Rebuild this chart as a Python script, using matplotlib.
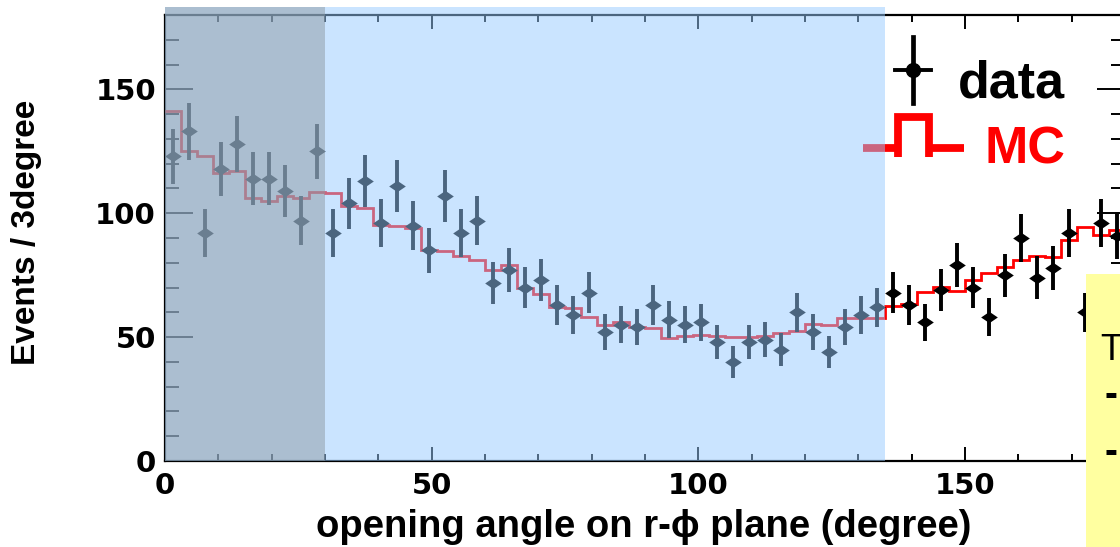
import numpy as np
import matplotlib
matplotlib.use("Agg")
import matplotlib.pyplot as plt
from matplotlib.patches import Rectangle
from matplotlib.ticker import MultipleLocator

# Opening-angle distribution, 3-degree bins from 0 to 180 degrees
bin_edges = np.arange(0, 181, 3)

data_counts = [123, 133, 92, 118, 128, 114, 114, 109, 97, 125,
               92, 104, 113, 96, 111, 95, 85, 107, 92, 97,
               72, 77, 70, 73, 63, 59, 68, 52, 55, 54,
               63, 57, 55, 56, 48, 40, 48, 49, 45, 60,
               52, 44, 54, 59, 62, 68, 63, 56, 69, 79,
               70, 58, 75, 90, 74, 78, 92, 60, 96, 91]

mc_counts = [141.3, 125.0, 123.0, 116.4, 117.0, 106.0, 104.8, 107.0, 106.0, 108.5,
             108.2, 102.8, 102.3, 95.4, 94.7, 94.1, 85.0, 84.6, 82.9, 81.3,
             77.0, 79.3, 69.8, 67.5, 62.1, 61.7, 58.1, 55.0, 55.9, 54.0,
             53.5, 49.8, 50.5, 51.0, 50.5, 50.0, 50.0, 50.3, 51.6, 52.3,
             55.2, 55.0, 57.7, 57.7, 57.7, 62.7, 63.5, 68.1, 70.2, 68.5,
             73.2, 75.9, 78.3, 81.3, 82.9, 82.4, 89.1, 94.5, 91.4, 93.4]

# Highlighted angular ranges (degrees)
dark_band = (0, 30)
light_band = (30, 135)

x_ticks = [0, 50, 100, 150]
y_ticks = [0, 50, 100, 150]

W, H = 1120, 547
fig = plt.figure(figsize=(W / 100, H / 100), dpi=100)
fig.patch.set_facecolor("white")

# axes box in pixel units (right edge runs slightly past the canvas)
ax_l, ax_r, ax_t, ax_b = 165, 1125, 15, 461
ax = fig.add_axes([ax_l / W, (H - ax_b) / H, (ax_r - ax_l) / W, (ax_b - ax_t) / H])
ax.set_xlim(0, 180)
ax.set_ylim(0, 180)
ax.set_facecolor("white")

centers = (bin_edges[:-1] + bin_edges[1:]) / 2
counts = np.array(data_counts, dtype=float)

ax.stairs(mc_counts, bin_edges, baseline=None, color="#ff0000", lw=2.0, zorder=3)

diamond = [(-1, 0), (0, 0.68), (1, 0), (0, -0.68), (-1, 0)]
ax.errorbar(centers, counts, yerr=np.sqrt(counts), fmt="none",
            ecolor="black", elinewidth=2.8, capsize=0, zorder=4)
ax.plot(centers, counts, linestyle="none", marker=diamond, markersize=12,
        color="black", markeredgewidth=0, zorder=4.5)

# ticks
for side in ["left", "right", "top", "bottom"]:
    ax.spines[side].set_linewidth(1.6)
ax.xaxis.set_major_locator(MultipleLocator(50))
ax.xaxis.set_minor_locator(MultipleLocator(10))
ax.yaxis.set_major_locator(MultipleLocator(50))
ax.yaxis.set_minor_locator(MultipleLocator(10))
ax.set_xticks(x_ticks)
ax.set_yticks(y_ticks)
ax.tick_params(axis="x", which="major", direction="in", length=10, width=1.4,
               top=True, bottom=True, pad=8)
ax.tick_params(axis="x", which="minor", direction="in", length=5, width=1.4,
               top=True, bottom=True)
ax.tick_params(axis="y", which="major", direction="in", length=20, width=1.4,
               left=True, right=True, pad=6.5)
ax.tick_params(axis="y", which="minor", direction="in", length=10, width=1.4,
               left=True, right=True)
for lab in ax.get_xticklabels() + ax.get_yticklabels():
    lab.set_fontfamily("DejaVu Sans")
    lab.set_fontweight("bold")
    lab.set_fontsize(21)

# legend, drawn in axes fractions
def px2ax(px, py):
    return (px - ax_l) / (ax_r - ax_l), (ax_b - py) / (ax_b - ax_t)

tA = ax.transAxes
x0, y0 = px2ax(913, 70)
xa, ya = px2ax(913, 37)
xb, yb = px2ax(913, 103)
ax.plot([xa, xb], [ya, yb], color="black", lw=3.4, transform=tA, zorder=5, clip_on=False)
xh1, _ = px2ax(895, 70)
xh2, _ = px2ax(931, 70)
ax.plot([xh1, xh2], [y0, y0], color="black", lw=2.8, transform=tA, zorder=5, clip_on=False)
ax.plot([x0], [y0], marker="o", markersize=10, color="black", transform=tA, zorder=5, clip_on=False)
tx, ty = px2ax(958, 98)
ax.text(tx, ty, "data", transform=tA, fontsize=37.5, fontweight="bold",
        family="Liberation Sans", color="black", va="baseline", ha="left", zorder=5)

mc_segments = [
    [(863, 147.5), (899, 147.5)],
    [(898.5, 157), (898.5, 117), (929.5, 117), (929.5, 157)],
    [(929.5, 147.5), (964, 147.5)],
]
for seg in mc_segments:
    pts = [px2ax(*p) for p in seg]
    ax.plot([p[0] for p in pts], [p[1] for p in pts], color="#ff0000", lw=5.6,
            solid_capstyle="butt", solid_joinstyle="miter", transform=tA,
            zorder=5, clip_on=False)
tx, ty = px2ax(985, 163)
ax.text(tx, ty, "MC", transform=tA, fontsize=37.5, fontweight="bold",
        family="Liberation Sans", color="#ff0000", va="baseline", ha="left", zorder=5)

# translucent bands laid over the plot
band_top = (ax_b - 7) / (ax_b - ax_t)
ax.axvspan(*light_band, ymin=0, ymax=band_top, facecolor="#96caff", alpha=0.5,
           lw=0, zorder=10, clip_on=False)
ax.axvspan(*dark_band, ymin=0, ymax=band_top, facecolor="#8fa9c1", alpha=0.75,
           lw=0, zorder=10, clip_on=False)

# axis titles
fig.text(644 / W, (H - 537) / H, "opening angle on r-\u03d5 plane (degree)",
         family=["Liberation Sans", "DejaVu Sans"], fontweight="bold", fontsize=27.5,
         ha="center", va="baseline")
fig.text(27 / W, (H - 232) / H, "Events / 3degree", family="Liberation Sans",
         fontweight="bold", fontsize=24, rotation=90, ha="center", va="center")

# note box at the right edge
fig.patches.append(Rectangle((1086 / W, 0), (W - 1086) / W + 0.01, (H - 274) / H,
                             transform=fig.transFigure, facecolor="#ffffa0",
                             edgecolor="none", zorder=20))
fig.text(1100 / W, (H - 360) / H, "T", family="Liberation Sans", fontsize=26,
         ha="left", va="baseline", zorder=21)
fig.text(1104 / W, (H - 406) / H, "-", family="Liberation Sans", fontsize=28,
         fontweight="bold", ha="left", va="baseline", zorder=21)
fig.text(1104 / W, (H - 463) / H, "-", family="Liberation Sans", fontsize=28,
         fontweight="bold", ha="left", va="baseline", zorder=21)

fig.savefig("out.png", dpi=100)
